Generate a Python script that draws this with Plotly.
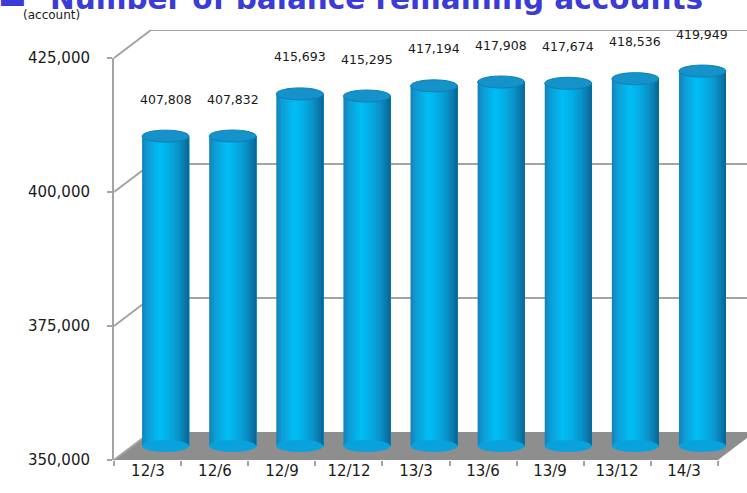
import plotly.graph_objects as go

# ---- data ----
periods = ["12/3", "12/6", "12/9", "12/12", "13/3", "13/6", "13/9", "13/12", "14/3"]
accounts = [407808, 407832, 415693, 415295, 417194, 417908, 417674, 418536, 419949]
y_ticks = [350000, 375000, 400000, 425000]

# ---- geometry (pixels in a 747 x 493 canvas) ----
W, H = 747, 493
Y_MIN, Y_MAX = 350000, 425000
FRONT_LEFT, FRONT_RIGHT = 114, 718
FRONT_BOTTOM, FRONT_TOP = 460, 58
DEPTH_X, DEPTH_Y = 37, 28          # back wall offset
MID_X, MID_Y = 18, 14              # plane where the cylinders stand
PX_PER_UNIT = (FRONT_BOTTOM - FRONT_TOP) / (Y_MAX - Y_MIN)
BAR_PAD = 4000                     # extra range below the base so the bottom caps show


def px(x):
    return x / W


def py(y):
    return 1 - y / H


def front_y(v):
    return FRONT_BOTTOM - (v - Y_MIN) * PX_PER_UNIT


FONT = "DejaVu Sans"
GRID = "#a3a3a3"

fig = go.Figure()

# cylinder body: overlapping bar layers give a horizontal shading
stops = [(0.0, (22, 128, 184)), (0.12, (14, 156, 212)), (0.38, (0, 190, 245)),
         (0.55, (4, 176, 232)), (0.78, (10, 146, 200)), (0.92, (10, 118, 168)),
         (1.0, (8, 100, 146))]


def shade(t):
    for (t0, c0), (t1, c1) in zip(stops, stops[1:]):
        if t0 <= t <= t1:
            f = (t - t0) / (t1 - t0) if t1 > t0 else 0
            return "rgb(%d,%d,%d)" % tuple(round(a + (b - a) * f) for a, b in zip(c0, c1))
    return "rgb(%d,%d,%d)" % stops[-1][1]


BAR_W = 0.7
N = 20
x_idx = list(range(len(periods)))
for k in range(N):
    off = -BAR_W / 2 + k * BAR_W / N
    fig.add_trace(go.Bar(
        x=x_idx, y=[v - Y_MIN for v in accounts], base=Y_MIN,
        width=BAR_W - k * BAR_W / N, offset=off,
        marker=dict(color=shade((k + 0.5) / N), line=dict(width=0)),
        xaxis="x2", yaxis="y2", showlegend=False, hoverinfo="skip",
    ))

fig.update_layout(barmode="overlay")

shapes = []
# floor
fl = [(FRONT_LEFT - 1, FRONT_BOTTOM), (FRONT_RIGHT, FRONT_BOTTOM),
      (FRONT_RIGHT + DEPTH_X, FRONT_BOTTOM - DEPTH_Y), (FRONT_LEFT + DEPTH_X - 1, FRONT_BOTTOM - DEPTH_Y)]
path = "M " + " L ".join(f"{px(a):.5f},{py(b):.5f}" for a, b in fl) + " Z"
shapes.append(dict(type="path", path=path, xref="paper", yref="paper",
                   fillcolor="#8e8e8e", line=dict(width=0), layer="below"))
# side wall grid lines
for v in y_ticks:
    yf = front_y(v)
    shapes.append(dict(type="line", xref="paper", yref="paper",
                       x0=px(FRONT_LEFT), y0=py(yf),
                       x1=px(FRONT_LEFT + DEPTH_X), y1=py(yf - DEPTH_Y),
                       line=dict(color=GRID, width=2), layer="below"))
# back wall grid lines (on the back-wall value axis)
for v in y_ticks[1:]:
    shapes.append(dict(type="line", xref="paper", yref="y3",
                       x0=px(FRONT_LEFT + DEPTH_X - 1), x1=1, y0=v, y1=v,
                       line=dict(color=GRID, width=2), layer="below"))

# cylinder caps
for i, v in enumerate(accounts):
    shapes.append(dict(type="circle", xref="x2", yref="y2",
                       x0=i - BAR_W / 2, x1=i + BAR_W / 2,
                       ysizemode="pixel", yanchor=Y_MIN, y0=-6, y1=6,
                       fillcolor="#0aa2dc", line=dict(width=0), layer="above"))
    shapes.append(dict(type="circle", xref="x2", yref="y2",
                       x0=i - BAR_W / 2, x1=i + BAR_W / 2,
                       ysizemode="pixel", yanchor=v, y0=-6, y1=6,
                       fillcolor="#1592c9", line=dict(color="#0c80b6", width=1), layer="above"))

annotations = []
for i, v in enumerate(accounts):
    annotations.append(dict(x=i, y=v, xref="x2", yref="y2", text=f"{v:,}",
                            showarrow=False, yanchor="middle", yshift=37,
                            font=dict(family=FONT, size=12.5, color="#1a1a1a")))

annotations.append(dict(x=px(-4), y=py(11), xref="paper", yref="paper", text="■",
                        xanchor="left", yanchor="bottom", showarrow=False,
                        font=dict(family=FONT, size=30, color="#3b3bd6")))
annotations.append(dict(x=px(48), y=py(18), xref="paper", yref="paper",
                        text="<b>Number of balance remaining accounts</b>",
                        xanchor="left", yanchor="bottom", showarrow=False,
                        font=dict(family=FONT, size=29.5, color="#3b3bd6")))
annotations.append(dict(x=px(51), y=py(14.5), xref="paper", yref="paper", text="(account)",
                        xanchor="center", yanchor="middle", showarrow=False,
                        font=dict(family=FONT, size=12, color="#1a1a1a")))

fig.update_layout(
    width=W, height=H,
    margin=dict(l=0, r=0, t=0, b=0, autoexpand=False),
    paper_bgcolor="white", plot_bgcolor="rgba(0,0,0,0)",
    shapes=shapes, annotations=annotations,
    # front axes
    xaxis=dict(domain=[px(FRONT_LEFT), px(FRONT_RIGHT)], type="category",
               categoryorder="array", categoryarray=periods,
               tickson="boundaries", ticks="outside", ticklen=5, tickcolor=GRID,
               tickwidth=1.5, showgrid=False, zeroline=False, showline=False,
               tickfont=dict(family=FONT, size=15, color="#1a1a1a"),
               anchor="y", fixedrange=True, automargin=False),
    yaxis=dict(domain=[py(FRONT_BOTTOM), py(FRONT_TOP)], range=[Y_MIN, Y_MAX],
               tickvals=y_ticks, tickformat=",", ticks="outside", ticklen=5,
               tickcolor=GRID, tickwidth=1.5, showline=True, linecolor=GRID, linewidth=2,
               showgrid=False, zeroline=False, ticklabelstandoff=14,
               tickfont=dict(family=FONT, size=15, color="#1a1a1a"),
               anchor="x", fixedrange=True, automargin=False),
    # cylinder plane
    xaxis2=dict(domain=[px(FRONT_LEFT + MID_X), px(FRONT_RIGHT + MID_X)],
                range=[-0.5, len(periods) - 0.5], visible=False, anchor="y2",
                automargin=False),
    yaxis2=dict(domain=[py(FRONT_BOTTOM - MID_Y + BAR_PAD * PX_PER_UNIT), py(FRONT_TOP - MID_Y)],
                range=[Y_MIN - BAR_PAD, Y_MAX], visible=False, anchor="x2",
                automargin=False),
    # back wall
    xaxis3=dict(domain=[px(FRONT_LEFT + DEPTH_X - 1), 1], range=[0, 1], visible=False,
                anchor="y3", automargin=False),
    yaxis3=dict(domain=[py(FRONT_BOTTOM - DEPTH_Y), py(FRONT_TOP - DEPTH_Y)],
                range=[Y_MIN, Y_MAX], visible=False, anchor="x3", automargin=False),
)

# invisible traces so the front and back-wall axes are drawn
fig.add_trace(go.Scatter(x=periods, y=[Y_MIN] * len(periods), xaxis="x", yaxis="y",
                         mode="markers", marker=dict(opacity=0),
                         showlegend=False, hoverinfo="skip"))
fig.add_trace(go.Scatter(x=[0], y=[Y_MIN], xaxis="x3", yaxis="y3", mode="markers",
                         marker=dict(opacity=0), showlegend=False, hoverinfo="skip"))

fig.write_html("out.html")
